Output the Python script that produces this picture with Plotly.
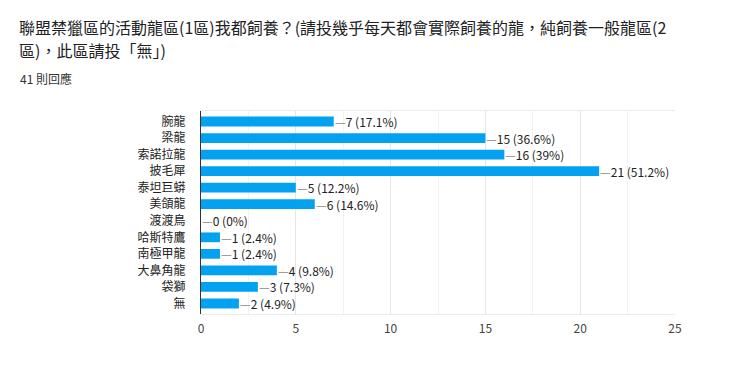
import plotly.graph_objects as go

categories = ["腕龍", "梁龍", "索諾拉龍", "披毛犀", "泰坦巨蟒", "美頜龍", "渡渡鳥",
              "哈斯特鷹", "南極甲龍", "大鼻角龍", "袋獅", "無"]
counts = [7, 15, 16, 21, 5, 6, 0, 1, 1, 4, 3, 2]
percents = ["17.1%", "36.6%", "39%", "51.2%", "12.2%", "14.6%", "0%",
            "2.4%", "2.4%", "9.8%", "7.3%", "4.9%"]
title_lines = ["聯盟禁獵區的活動龍區(1區)我都飼養？(請投幾乎每天都會實際飼養的龍，純飼養一般龍區(2",
               "區)，此區請投「無」)"]
subtitle_text = "41 則回應"

FONT = "Noto Sans CJK TC, Arial, sans-serif"
L, R, T, B = 201, 81, 111, 56
PW, PH = 756 - L - R, 370 - T - B


def px_x(x):
    return (x - L) / PW


def px_y(y):
    return 1 - (y - T) / PH


fig = go.Figure()
fig.add_trace(go.Bar(
    x=counts, y=categories, orientation="h",
    marker=dict(color="#03a2f0", line=dict(width=0)),
    hoverinfo="skip",
))

for c, p, cat in zip(counts, percents, categories):
    fig.add_annotation(
        x=c, y=cat, xref="x", yref="y",
        text=f"<span style='color:#888'>—</span>{c} ({p})",
        showarrow=False, xanchor="left", yanchor="middle", xshift=-1,
        font=dict(family=FONT, size=12, color="#222"),
    )

for i, line in enumerate(title_lines):
    fig.add_annotation(
        text=line, xref="paper", yref="paper",
        x=px_x(17), y=px_y(27 + 23 * i), xanchor="left", yanchor="middle",
        showarrow=False, font=dict(family=FONT, size=16, color="#202124"),
    )

fig.add_annotation(
    text=subtitle_text, xref="paper", yref="paper",
    x=px_x(18), y=px_y(78), xanchor="left", yanchor="middle",
    showarrow=False, font=dict(family=FONT, size=12, color="#333"),
)

fig.update_layout(
    width=756, height=370,
    margin=dict(l=L, r=R, t=T, b=B),
    paper_bgcolor="white", plot_bgcolor="white",
    bargap=0.41,
    showlegend=False,
    xaxis=dict(
        range=[0, 25], dtick=5, tick0=0,
        showgrid=True, gridcolor="#e6e6e6", gridwidth=1,
        minor=dict(dtick=2.5, showgrid=True, gridcolor="#f2f2f2"),
        zeroline=False,
        showline=True, linecolor="#ebebeb", mirror=True,
        ticks="", ticklabelstandoff=4,
        tickfont=dict(family=FONT, size=12, color="#444"),
        fixedrange=True,
    ),
    yaxis=dict(
        autorange="reversed",
        showgrid=False, zeroline=False,
        showline=True, linecolor="#333", linewidth=1,
        ticks="outside", ticklen=12, tickcolor="rgba(0,0,0,0)",
        tickfont=dict(family=FONT, size=12, color="#222"),
        fixedrange=True,
    ),
)

fig.write_html("out.html", config={"displayModeBar": False},
               post_script="document.body.style.margin='0';document.body.style.padding='0';")
